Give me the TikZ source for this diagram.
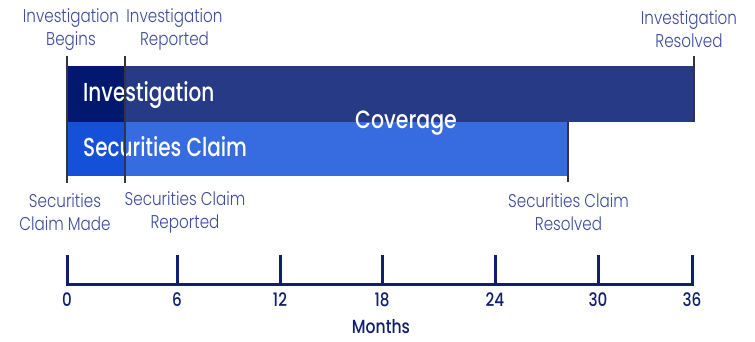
\documentclass[tikz,border=0pt]{standalone}
\usepackage{fontspec}
\setmainfont{Poppins}[FakeStretch=0.82]
\newfontfamily\lightfont{Poppins Light}[FakeStretch=0.82]
\newfontfamily\medfont{Poppins Medium}[FakeStretch=0.82]
\newfontfamily\barfont{Poppins Medium}[FakeStretch=0.77]
\definecolor{invdark}{RGB}{0,24,110}
\definecolor{invmain}{RGB}{38,58,133}
\definecolor{secdark}{RGB}{20,80,216}
\definecolor{secmain}{RGB}{55,108,224}
\definecolor{labelc}{RGB}{60,75,155}
\definecolor{axisc}{RGB}{15,30,110}
\definecolor{markc}{RGB}{50,52,65}
\begin{document}
\begin{tikzpicture}[x=1pt,y=-1pt,
  bar/.style={rectangle, draw=none, inner sep=0pt, outer sep=0pt, anchor=north west},
  evlabel/.style={font=\lightfont\fontsize{18.5}{23}\selectfont, text=labelc, align=center, inner sep=0pt},
  barlabel/.style={font=\barfont\fontsize{26}{30}\selectfont, text=white, inner sep=0pt},
  covlabel/.style={font=\medfont\fontsize{25}{30}\selectfont, text=white, inner sep=0pt},
  marker/.style={draw=markc, line width=2.2pt},
  axisline/.style={draw=axisc, line width=3pt, line join=miter},
  ticklabel/.style={font=\medfont\fontsize{18.5}{22}\selectfont, text=axisc, inner sep=0pt},
  axistitle/.style={font=\medfont\fontsize{19}{22}\selectfont, text=axisc, inner sep=0pt}]
\useasboundingbox (0,0) rectangle (755,341);
% bars
\node[bar, fill=invmain, minimum width=627pt, minimum height=56pt] (inv) at (67,66) {};
\node[bar, fill=invdark, minimum width=58pt, minimum height=56pt] (invfirst) at (67,66) {};
\node[bar, fill=secmain, minimum width=501pt, minimum height=54pt] (sec) at (67,122) {};
\node[bar, fill=secdark, minimum width=58pt, minimum height=54pt] (secfirst) at (67,122) {};
% bar labels
\node[barlabel, anchor=base west] (invtxt) at (83,101) {Investigation};
\node[barlabel, anchor=base west] (sectxt) at (83,156) {Securities Claim};
\node[covlabel, anchor=base] (cov) at (406,128.5) {Coverage};
% markers
\coordinate (m1t) at (67,56);  \coordinate (m1b) at (67,183);
\coordinate (m2t) at (125,56); \coordinate (m2b) at (125,183);
\coordinate (m3t) at (694,56); \coordinate (m3b) at (694,122);
\coordinate (m4t) at (568,122); \coordinate (m4b) at (568,182);
\draw[marker] (m1t) -- (m1b);
\draw[marker] (m2t) -- (m2b);
\draw[marker] (m3t) -- (m3b);
\draw[marker] (m4t) -- (m4b);
% event labels
\node[evlabel] (lbeg) at (71,29.5) {Investigation\\Begins};
\node[evlabel] (lrep) at (174.5,29.5) {Investigation\\Reported};
\node[evlabel] (lres) at (689,29.5) {Investigation\\Resolved};
\node[evlabel] (smade) at (65,212) {Securities\\Claim Made};
\node[evlabel] (srep) at (185,212) {Securities Claim\\Reported};
\node[evlabel] (sres) at (568.5,212) {Securities Claim\\Resolved};
% axis
\coordinate (a0) at (67,284);   \coordinate (a0t) at (67,255);
\coordinate (a6) at (177,284);  \coordinate (a6t) at (177,255);
\coordinate (a12) at (280,284); \coordinate (a12t) at (280,255);
\coordinate (a18) at (382,284); \coordinate (a18t) at (382,255);
\coordinate (a24) at (495,284); \coordinate (a24t) at (495,255);
\coordinate (a30) at (598,284); \coordinate (a30t) at (598,255);
\coordinate (a36) at (692,284); \coordinate (a36t) at (692,255);
\draw[axisline] (a0t) -- (a0) -- (a36) -- (a36t);
\foreach \m in {6,12,18,24,30} { \draw[axisline] (a\m t) -- (a\m); }
\foreach \m in {0,6,12,18,24,30,36} { \node[ticklabel, anchor=base] (n\m) at ([yshift=-306pt]a\m |- 0,0) {\m}; }
\node[axistitle] (months) at (381,327) {Months};
\end{tikzpicture}
\end{document}
